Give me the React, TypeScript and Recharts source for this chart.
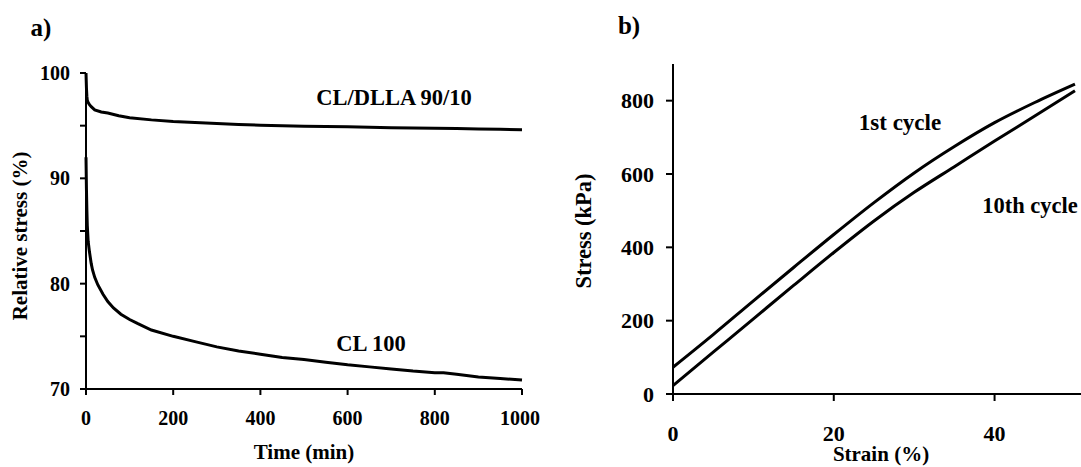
import React from 'react';
import { LineChart, Line, XAxis, YAxis } from 'recharts';

// Panel a) stress relaxation
const timeBlend = [0, 0.5, 1, 2, 3, 5, 8, 12, 20, 35, 50, 75, 100, 150, 200, 250, 300, 350, 400, 450, 500, 550, 600, 650, 700, 750, 800, 850, 900, 950, 1000];
const stressBlend = [100, 99.3, 98.6, 97.8, 97.4, 97.2, 97.0, 96.8, 96.5, 96.3, 96.2, 95.95, 95.75, 95.55, 95.4, 95.3, 95.2, 95.12, 95.05, 95.0, 94.95, 94.92, 94.89, 94.84, 94.8, 94.78, 94.76, 94.72, 94.68, 94.66, 94.62];
const timeCL = [0, 1, 2, 3, 5, 8, 12, 15, 20, 27, 39, 50, 63, 80, 100, 119, 150, 200, 250, 300, 350, 400, 450, 500, 550, 600, 650, 700, 750, 800, 820, 850, 900, 950, 1000];
const stressCL = [92, 89, 87, 85.5, 84, 83, 81.9, 81.3, 80.6, 79.9, 79.0, 78.3, 77.7, 77.1, 76.6, 76.2, 75.6, 75.0, 74.5, 74.0, 73.6, 73.3, 73.0, 72.8, 72.55, 72.3, 72.1, 71.9, 71.7, 71.55, 71.55, 71.4, 71.15, 71.0, 70.85];
const timeTicks = [0, 200, 400, 600, 800, 1000];
const relTicks = [70, 75, 80, 85, 90, 95, 100];

// Panel b) cyclic tensile
const strain = [0, 5, 10, 15, 20, 25, 30, 35, 40, 45, 50];
const stressCycle1 = [73, 162, 254, 345, 435, 522, 603, 675, 740, 795, 845];
const stressCycle10 = [23, 114, 205, 296, 386, 472, 550, 620, 690, 758, 827];
const strainTicks = [0, 20, 40];
const kpaTicks = [0, 200, 400, 600, 800];

const FONT = '"Liberation Serif", "Times New Roman", serif';

const blendData = timeBlend.map((t, i) => ({ t, v: stressBlend[i] }));
const clData = timeCL.map((t, i) => ({ t, v: stressCL[i] }));
const c1Data = strain.map((s, i) => ({ s, v: stressCycle1[i] }));
const c10Data = strain.map((s, i) => ({ s, v: stressCycle10[i] }));

const axisStyle = { stroke: '#000', strokeWidth: 2 };

export default function App() {
  const tickA = { fill: '#000', fontSize: 20, fontWeight: 'bold', fontFamily: FONT };
  const tickB = { fill: '#000', fontSize: 22, fontWeight: 'bold', fontFamily: FONT };
  const txt = { fontFamily: FONT, fontWeight: 'bold', fill: '#000' } as const;
  return (
    <div style={{ position: 'absolute', left: 0, top: 0, width: 1081, height: 467, overflow: 'hidden', background: '#fff' }}>
      <div style={{ position: 'absolute', left: 0, top: 0 }}>
        <LineChart width={540} height={467} margin={{ top: 73, right: 18, bottom: 48, left: 0 }}>
          <XAxis
            type="number"
            dataKey="t"
            domain={[0, 1000]}
            ticks={timeTicks}
            height={30}
            tickSize={6}
            tickMargin={16}
            axisLine={axisStyle}
            tickLine={axisStyle}
            tick={tickA}
            allowDuplicatedCategory={false}
          />
          <YAxis
            type="number"
            domain={[70, 100]}
            ticks={relTicks}
            width={86}
            tickSize={6}
            tickMargin={10}
            axisLine={axisStyle}
            tickLine={axisStyle}
            tick={tickA}
            tickFormatter={(v: number) => (v % 10 === 0 ? String(v) : '')}
          />
          <Line data={blendData} dataKey="v" type="linear" stroke="#000" strokeWidth={3} dot={false} isAnimationActive={false} />
          <Line data={clData} dataKey="v" type="linear" stroke="#000" strokeWidth={3} dot={false} isAnimationActive={false} />
        </LineChart>
      </div>
      <div style={{ position: 'absolute', left: 540, top: 0 }}>
        <LineChart width={545} height={467} margin={{ top: 64, right: 2, bottom: 43, left: 0 }}>
          <XAxis
            type="number"
            dataKey="s"
            domain={[0, 51]}
            ticks={strainTicks}
            height={30}
            tickSize={7}
            tickMargin={24}
            axisLine={axisStyle}
            tickLine={axisStyle}
            tick={tickB}
            allowDuplicatedCategory={false}
          />
          <YAxis
            type="number"
            domain={[0, 900]}
            ticks={kpaTicks}
            width={133}
            tickSize={7}
            tickMargin={12}
            axisLine={axisStyle}
            tickLine={axisStyle}
            tick={tickB}
          />
          <Line data={c1Data} dataKey="v" type="monotone" stroke="#000" strokeWidth={3} dot={false} isAnimationActive={false} />
          <Line data={c10Data} dataKey="v" type="monotone" stroke="#000" strokeWidth={3} dot={false} isAnimationActive={false} />
        </LineChart>
      </div>
      <svg width={1081} height={467} style={{ position: 'absolute', left: 0, top: 0, pointerEvents: 'none' }}>
        <text x={41} y={27} textAnchor="middle" dominantBaseline="central" fontSize={25} {...txt}>a)</text>
        <text x={629} y={25} textAnchor="middle" dominantBaseline="central" fontSize={25} {...txt}>b)</text>
        <text x={304} y={452} textAnchor="middle" dominantBaseline="central" fontSize={21} {...txt}>Time (min)</text>
        <text x={20} y={236} textAnchor="middle" dominantBaseline="central" fontSize={21} transform="rotate(-90 20 236)" {...txt}>Relative stress (%)</text>
        <text x={394} y={97} textAnchor="middle" dominantBaseline="central" fontSize={22.5} {...txt}>CL/DLLA 90/10</text>
        <text x={371} y={343} textAnchor="middle" dominantBaseline="central" fontSize={22.5} {...txt}>CL 100</text>
        <text x={881} y={454} textAnchor="middle" dominantBaseline="central" fontSize={21} {...txt}>Strain (%)</text>
        <text x={583} y={231} textAnchor="middle" dominantBaseline="central" fontSize={22.5} transform="rotate(-90 583 231)" {...txt}>Stress (kPa)</text>
        <text x={900} y={122} textAnchor="middle" dominantBaseline="central" fontSize={23} {...txt}>1st cycle</text>
        <text x={1030} y={205} textAnchor="middle" dominantBaseline="central" fontSize={22.5} {...txt}>10th cycle</text>
      </svg>
    </div>
  );
}
